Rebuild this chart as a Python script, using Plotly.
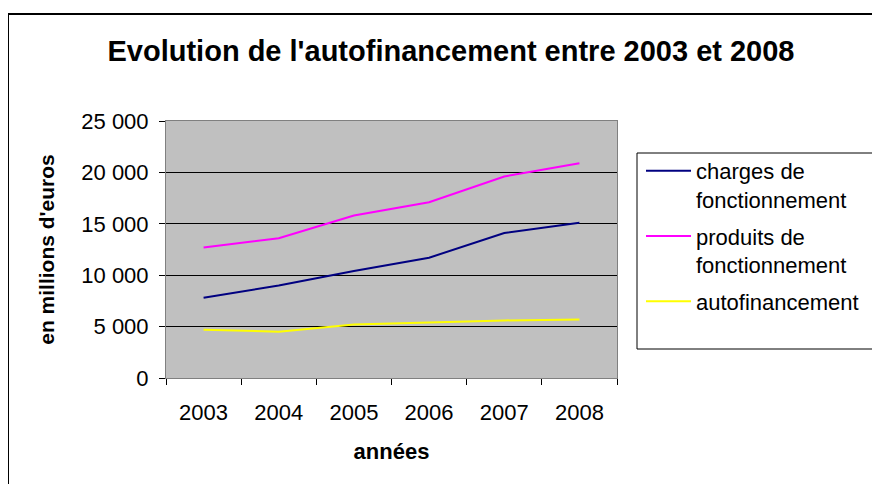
import plotly.graph_objects as go

years = ["2003", "2004", "2005", "2006", "2007", "2008"]
charges = [7800, 9000, 10400, 11700, 14100, 15100]
produits = [12700, 13600, 15800, 17100, 19600, 20900]
autofin = [4700, 4500, 5200, 5400, 5600, 5700]

names = ["charges de<br>fonctionnement", "produits de<br>fonctionnement", "autofinancement"]
colors = ["#000080", "#FF00FF", "#FFFF00"]
series = [charges, produits, autofin]

W, H = 880, 484
OFF = 8  # page body margin offset
L, R, T, B = 166, 617, 121, 378  # target screen coordinates of plot area

def px(x):
    return (x - L) / (R - L)

def py(y):
    return (B - y) / (B - T)

FONT = "Liberation Sans, Arial, sans-serif"

fig = go.Figure()
for i, (n, c, s) in enumerate(zip(names, colors, series)):
    fig.add_trace(go.Scatter(x=years, y=s, name=n, mode="lines",
                             line=dict(color=c, width=2), legendgroup=f"g{i}"))

fig.update_layout(
    width=W, height=H,
    margin=dict(l=L - OFF, r=W - (R - OFF), t=T - OFF, b=H - (B - OFF), pad=0),
    paper_bgcolor="white",
    plot_bgcolor="#C0C0C0",
    separators=", ",
    font=dict(family=FONT, color="black", size=22),
    title=dict(text="<b>Evolution de l'autofinancement entre 2003 et 2008</b>",
               font=dict(size=29, family=FONT, color="black"),
               x=px(451), xref="paper", xanchor="center",
               y=1 - (51 - OFF) / H, yref="container", yanchor="middle"),
    showlegend=True,
    legend=dict(x=px(641), y=py(150), xanchor="left", yanchor="top",
                bgcolor="rgba(0,0,0,0)", borderwidth=0,
                font=dict(size=22, family=FONT), valign="top",
                tracegroupgap=5, itemwidth=45, traceorder="grouped"),
    xaxis=dict(type="category", range=[-0.5, 5.5], showgrid=False, tickson="boundaries",
               ticks="outside", ticklen=6, tickcolor="black",
               showline=True, linecolor="#808080", linewidth=1, mirror=True,
               tickfont=dict(size=22), ticklabelstandoff=15, fixedrange=True,
               title=dict(text="<b>années</b>", font=dict(size=22), standoff=19)),
    yaxis=dict(range=[0, 25000], dtick=5000, tickformat=",d",
               showgrid=True, gridcolor="black", gridwidth=1,
               ticks="outside", ticklen=6, tickcolor="black",
               showline=True, linecolor="#808080", linewidth=1, mirror=True,
               zeroline=False, tickfont=dict(size=22), ticklabelstandoff=6,
               title=dict(text="<b>en millions d'euros</b>", font=dict(size=21), standoff=20)),
)

# outer chart border (extends beyond the visible image on right and bottom)
fig.add_shape(type="rect", xref="paper", yref="paper",
              x0=px(8), y0=py(520), x1=px(920), y1=py(14),
              line=dict(color="black", width=2), fillcolor="rgba(0,0,0,0)", layer="below")
# legend box
fig.add_shape(type="rect", xref="paper", yref="paper",
              x0=px(637), y0=py(349), x1=px(920), y1=py(153),
              line=dict(color="black", width=1), fillcolor="rgba(0,0,0,0)")

fig.write_html("out.html")
